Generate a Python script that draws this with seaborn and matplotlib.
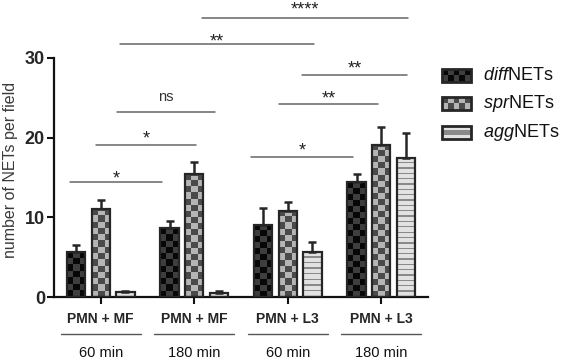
import numpy as np
import pandas as pd
import seaborn as sns
import matplotlib.pyplot as plt
from matplotlib.colors import ListedColormap
from matplotlib.patches import Rectangle
from matplotlib.transforms import blended_transform_factory

sns.set_style('ticks')
plt.rcParams['font.family'] = ['Liberation Sans', 'DejaVu Sans']
plt.rcParams['mathtext.fontset'] = 'custom'
plt.rcParams['mathtext.it'] = 'Liberation Sans:italic'
plt.rcParams['mathtext.rm'] = 'Liberation Sans'

# data
groups = ['MF 60', 'MF 180', 'L3 60', 'L3 180']
stim_labels = ['PMN + MF', 'PMN + MF', 'PMN + L3', 'PMN + L3']
time_labels = ['60 min', '180 min', '60 min', '180 min']
net_types = ['diffNETs', 'sprNETs', 'aggNETs']
legend_labels = [r'$\mathit{diff}$NETs', r'$\mathit{spr}$NETs', r'$\mathit{agg}$NETs']

diff_mean = [5.7, 8.6, 9.1, 14.4]
diff_sem = [0.8, 1.0, 2.1, 1.1]
spr_mean = [11.0, 15.4, 10.8, 19.1]
spr_sem = [1.2, 1.5, 1.1, 2.2]
agg_mean = [0.6, 0.5, 5.6, 17.4]
agg_sem = [0.15, 0.2, 1.3, 3.2]

# significance annotations: x from, x to, line height, label height, label
brackets = [
    (-0.33, 0.66, 14.4, 15.6, '*'),
    (-0.05, 1.02, 19.1, 20.6, '*'),
    (0.17, 1.22, 23.2, 25.1, 'ns'),
    (1.61, 2.70, 17.6, 19.1, '*'),
    (1.91, 2.96, 24.2, 25.6, '**'),
    (2.15, 3.28, 27.9, 29.4, '**'),
    (0.21, 2.28, 31.8, 32.8, '**'),
    (1.08, 3.29, 35.0, 36.8, '****'),
]

df = pd.DataFrame({
    'group': groups * 3,
    'type': np.repeat(net_types, len(groups)),
    'value': diff_mean + spr_mean + agg_mean,
})
sems = [diff_sem, spr_sem, agg_sem]

# fill patterns: (kind, dark colour, light colour)
patterns = {
    'diffNETs': ('checker', '#070707', '#3e3e3e'),
    'sprNETs': ('checker', '#4a4a4a', '#b5b5b5'),
    'aggNETs': ('stripes', '#8a8a8a', '#e2e2e2'),
}
edge = '#262626'


def make_pattern(kind, height, ncols=3, cell=0.77, period=0.66):
    if kind == 'checker':
        n = max(1, int(round(height / cell)))
        return np.add.outer(np.arange(n), np.arange(ncols)) % 2
    n = max(1, int(round(height / period)))
    return np.tile([1, 1, 1, 0], n)[:, None]


fig = plt.figure(figsize=(5.61, 3.59), dpi=100)
ax = fig.add_axes([54 / 561, 62 / 359, 374 / 561, 239 / 359])

sns.barplot(data=df, x='group', y='value', hue='type', order=groups,
            hue_order=net_types, width=0.79, gap=0.25, errorbar=None,
            legend=False, ax=ax)

for cont, name, err in zip(ax.containers, net_types, sems):
    kind, dark, light = patterns[name]
    cmap = ListedColormap([dark, light])
    xs, tops = [], []
    for p in cont.patches:
        x0, w, h = p.get_x(), p.get_width(), p.get_height()
        arr = make_pattern(kind, h)
        ax.imshow(arr, extent=[x0, x0 + w, 0, h], aspect='auto',
                  interpolation='nearest', cmap=cmap, vmin=0, vmax=1, zorder=2)
        p.set_facecolor('none')
        p.set_edgecolor(edge)
        p.set_linewidth(1.6)
        p.set_zorder(3)
        xs.append(x0 + w / 2)
        tops.append(h)
    ax.errorbar(xs, tops, yerr=[np.zeros(len(err)), err], fmt='none',
                ecolor=edge, elinewidth=1.8, capsize=3, capthick=1.8, zorder=4)

ax.set_xlim(-0.5, 3.5)
ax.set_ylim(0, 30)
ax.set_yticks([0, 10, 20, 30])
ax.set_yticklabels(['0', '10', '20', '30'], fontweight='bold', fontsize=13)
ax.set_xticks(range(len(groups)))
ax.set_xticklabels(stim_labels, fontweight='bold', fontsize=10)
ax.tick_params(axis='y', length=5, width=1.5, pad=1.5, color='#111111')
ax.tick_params(axis='x', length=5, width=1.5, pad=5.5, color='#111111')
ax.set_xlabel('')
ax.set_ylabel('number of NETs per field', fontsize=11.5, color='#3a3a3a')
ax.yaxis.set_label_coords(-0.095, 0.53)
sns.despine(ax=ax)
for s in ['left', 'bottom']:
    ax.spines[s].set_linewidth(1.6)
    ax.spines[s].set_color('#111111')

trans = blended_transform_factory(ax.transData, ax.transAxes)
for i, lab in enumerate(time_labels):
    ax.plot([i - 0.43, i + 0.43], [-0.155, -0.155], transform=trans,
            clip_on=False, color='#555555', lw=1)
    ax.text(i, -0.251, lab, transform=trans, ha='center', va='baseline',
            fontsize=10.5, color='#111111')

for x0, x1, yl, yt, lab in brackets:
    ax.plot([x0, x1], [yl, yl], color='#666666', lw=1.1, clip_on=False)
    if lab == 'ns':
        ax.text((x0 + x1) / 2, yt - 0.48, lab, ha='center', va='baseline',
                fontsize=10.5, color='#333333')
    else:
        ax.text((x0 + x1) / 2, yt - 1.3, lab, ha='center', va='baseline',
                fontsize=13, color='#222222')

# legend drawn with pattern swatches
for i, (name, lab) in enumerate(zip(net_types, legend_labels)):
    cy = 75.5 + i * 28.3
    kind, dark, light = patterns[name]
    sw = fig.add_axes([442 / 561, 1 - (cy + 6.5) / 359, 29 / 561, 13 / 359])
    if kind == 'checker':
        arr = np.add.outer(np.arange(2), np.arange(5)) % 2
    else:
        arr = np.array([[1], [0], [1]])
    sw.imshow(arr, aspect='auto', interpolation='nearest',
              cmap=ListedColormap([dark, light]), vmin=0, vmax=1)
    sw.set_axis_off()
    sw.add_patch(Rectangle((0, 0), 1, 1, transform=sw.transAxes, fill=False,
                           ec=edge, lw=2, clip_on=False))
    fig.text(483 / 561, 1 - cy / 359, lab, ha='left', va='center',
             fontsize=13, color='#111111')

fig.savefig('out.png', dpi=100)
